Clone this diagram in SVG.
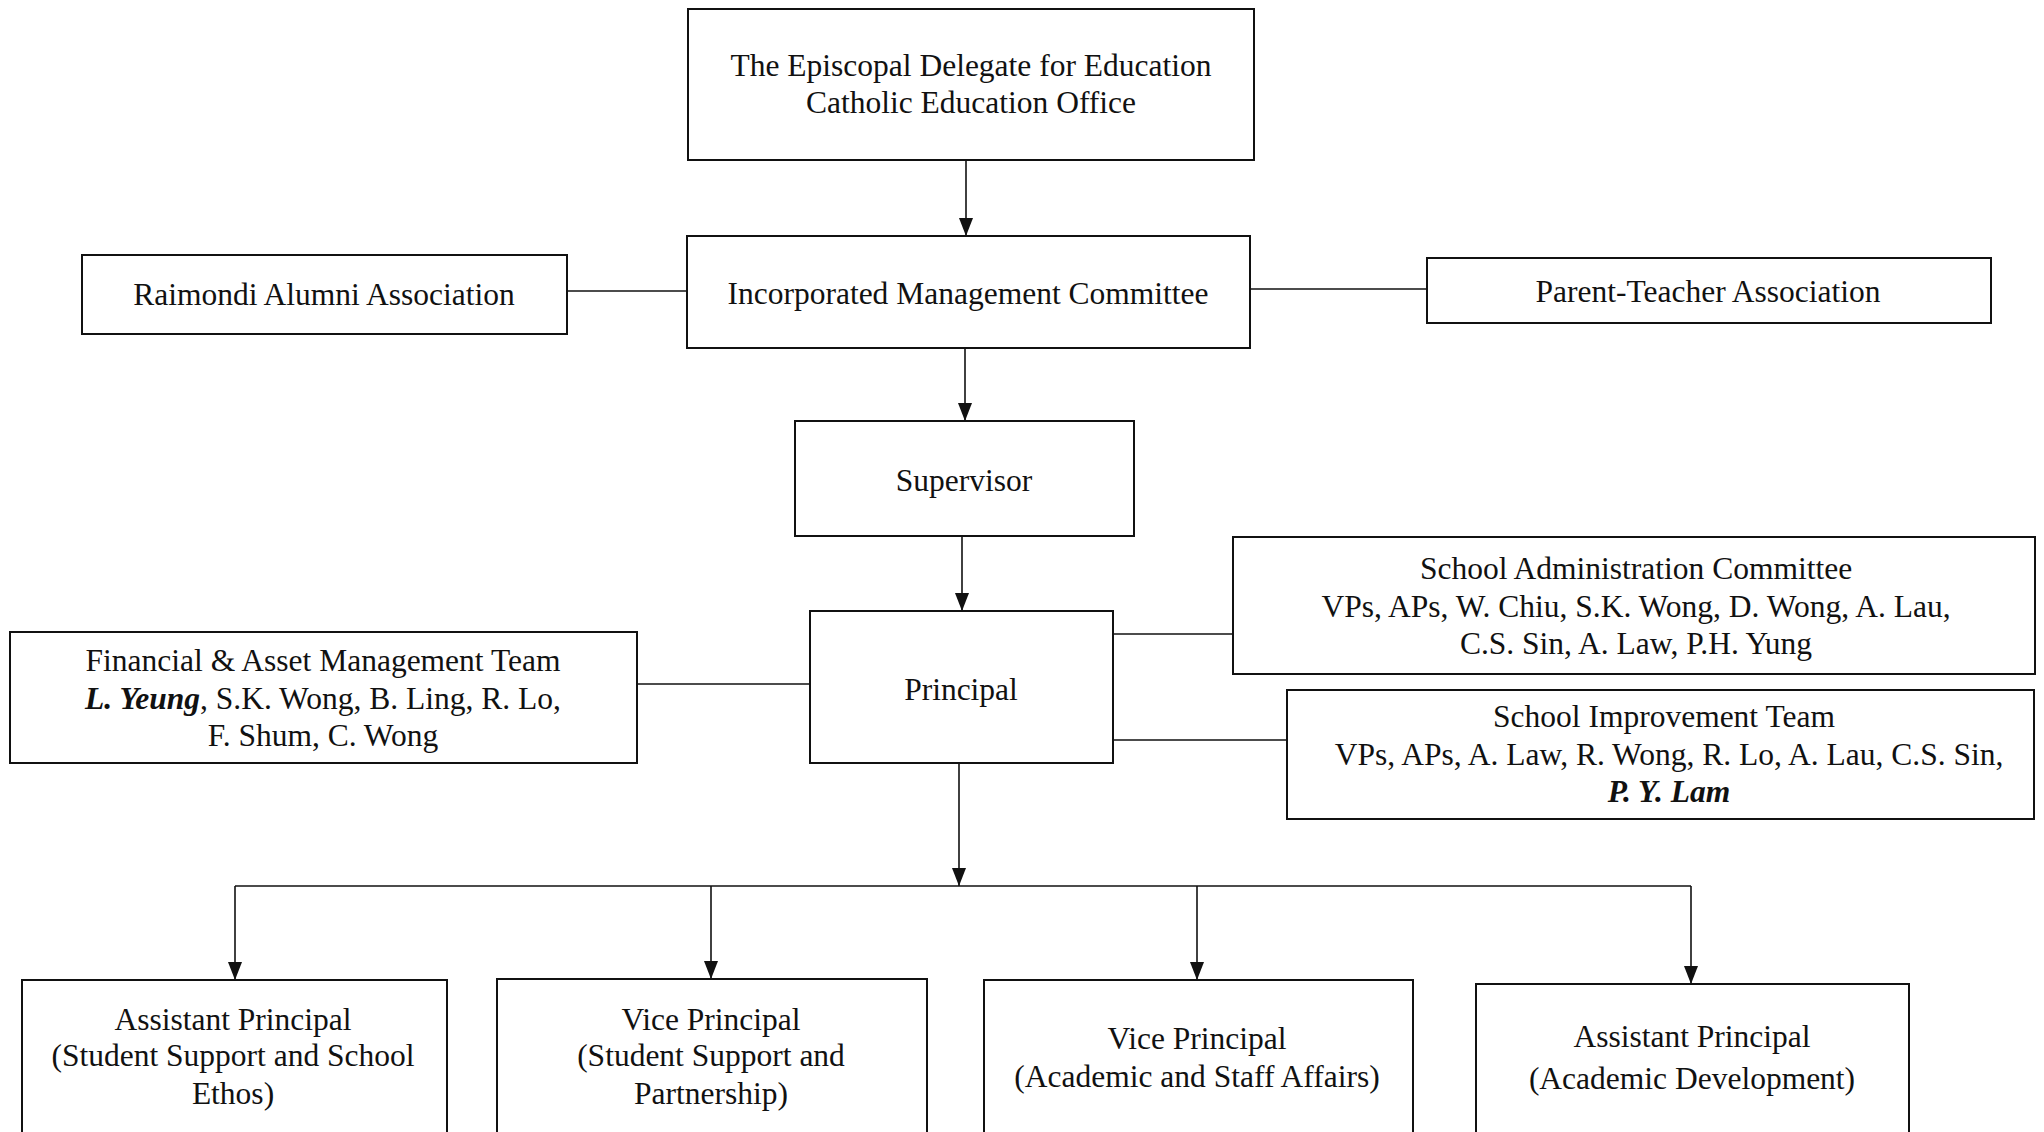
<svg xmlns="http://www.w3.org/2000/svg" width="2044" height="1132" viewBox="0 0 2044 1132">
<style>
.box{fill:#fff;stroke:#111;stroke-width:2}
.t{font-family:"Liberation Serif","Times New Roman",serif;font-size:31.5px;fill:#111;text-anchor:middle}
.bi{font-weight:bold;font-style:italic}
.c{fill:none;stroke:#111;stroke-width:1.6}
</style>
<defs>
<marker id="ah" viewBox="0 0 18 14" refX="18" refY="7" markerWidth="18" markerHeight="14" markerUnits="userSpaceOnUse" orient="auto">
<path d="M0,0 L18,7 L0,14 z" fill="#111"/>
</marker>
</defs>
<rect width="2044" height="1132" fill="#fff"/>
<g id="connectors">
<line class="c" x1="966" y1="160" x2="966" y2="236" marker-end="url(#ah)"/>
<line class="c" x1="567" y1="291" x2="687" y2="291"/>
<line class="c" x1="1250" y1="289" x2="1427" y2="289"/>
<line class="c" x1="965" y1="348" x2="965" y2="421" marker-end="url(#ah)"/>
<line class="c" x1="962" y1="536" x2="962" y2="611" marker-end="url(#ah)"/>
<line class="c" x1="637" y1="684" x2="810" y2="684"/>
<line class="c" x1="1113" y1="634" x2="1233" y2="634"/>
<line class="c" x1="1113" y1="740" x2="1287" y2="740"/>
<line class="c" x1="959" y1="763" x2="959" y2="886" marker-end="url(#ah)"/>
<line class="c" x1="235" y1="886" x2="1691" y2="886"/>
<line class="c" x1="235" y1="886" x2="235" y2="980" marker-end="url(#ah)"/>
<line class="c" x1="711" y1="886" x2="711" y2="979" marker-end="url(#ah)"/>
<line class="c" x1="1197" y1="886" x2="1197" y2="980" marker-end="url(#ah)"/>
<line class="c" x1="1691" y1="886" x2="1691" y2="984" marker-end="url(#ah)"/>
</g>
<g id="episcopal">
<rect class="box" x="688" y="9" width="566" height="151"/>
<text class="t" x="971" y="76">The Episcopal Delegate for Education</text>
<text class="t" x="971" y="113">Catholic Education Office</text>
</g>
<g id="imc">
<rect class="box" x="687" y="236" width="563" height="112"/>
<text class="t" x="968" y="304">Incorporated Management Committee</text>
</g>
<g id="alumni">
<rect class="box" x="82" y="255" width="485" height="79"/>
<text class="t" x="324" y="305">Raimondi Alumni Association</text>
</g>
<g id="pta">
<rect class="box" x="1427" y="258" width="564" height="65"/>
<text class="t" x="1708" y="302">Parent-Teacher Association</text>
</g>
<g id="supervisor">
<rect class="box" x="795" y="421" width="339" height="115"/>
<text class="t" x="964" y="491">Supervisor</text>
</g>
<g id="principal">
<rect class="box" x="810" y="611" width="303" height="152"/>
<text class="t" x="961" y="700">Principal</text>
</g>
<g id="financial">
<rect class="box" x="10" y="632" width="627" height="131"/>
<text class="t" x="323" y="671">Financial &amp; Asset Management Team</text>
<text class="t" x="323" y="709"><tspan class="bi">L. Yeung</tspan>, S.K. Wong, B. Ling, R. Lo,</text>
<text class="t" x="323" y="746">F. Shum, C. Wong</text>
</g>
<g id="sac">
<rect class="box" x="1233" y="537" width="802" height="137"/>
<text class="t" x="1636" y="579">School Administration Committee</text>
<text class="t" x="1636" y="617">VPs, APs, W. Chiu, S.K. Wong, D. Wong, A. Lau,</text>
<text class="t" x="1636" y="654">C.S. Sin, A. Law, P.H. Yung</text>
</g>
<g id="sit">
<rect class="box" x="1287" y="690" width="747" height="129"/>
<text class="t" x="1664" y="727">School Improvement Team</text>
<text class="t" x="1669" y="765">VPs, APs, A. Law, R. Wong, R. Lo, A. Lau, C.S. Sin,</text>
<text class="t" x="1669" y="802"><tspan class="bi">P. Y. Lam</tspan></text>
</g>
<g id="ap-student">
<rect class="box" x="22" y="980" width="425" height="160"/>
<text class="t" x="233" y="1030">Assistant Principal</text>
<text class="t" x="233" y="1066">(Student Support and School</text>
<text class="t" x="233" y="1104">Ethos)</text>
</g>
<g id="vp-student">
<rect class="box" x="497" y="979" width="430" height="160"/>
<text class="t" x="711" y="1030">Vice Principal</text>
<text class="t" x="711" y="1066">(Student Support and</text>
<text class="t" x="711" y="1104">Partnership)</text>
</g>
<g id="vp-academic">
<rect class="box" x="984" y="980" width="429" height="160"/>
<text class="t" x="1197" y="1049">Vice Principal</text>
<text class="t" x="1197" y="1087">(Academic and Staff Affairs)</text>
</g>
<g id="ap-academic">
<rect class="box" x="1476" y="984" width="433" height="160"/>
<text class="t" x="1692" y="1047">Assistant Principal</text>
<text class="t" x="1692" y="1089">(Academic Development)</text>
</g>
</svg>
